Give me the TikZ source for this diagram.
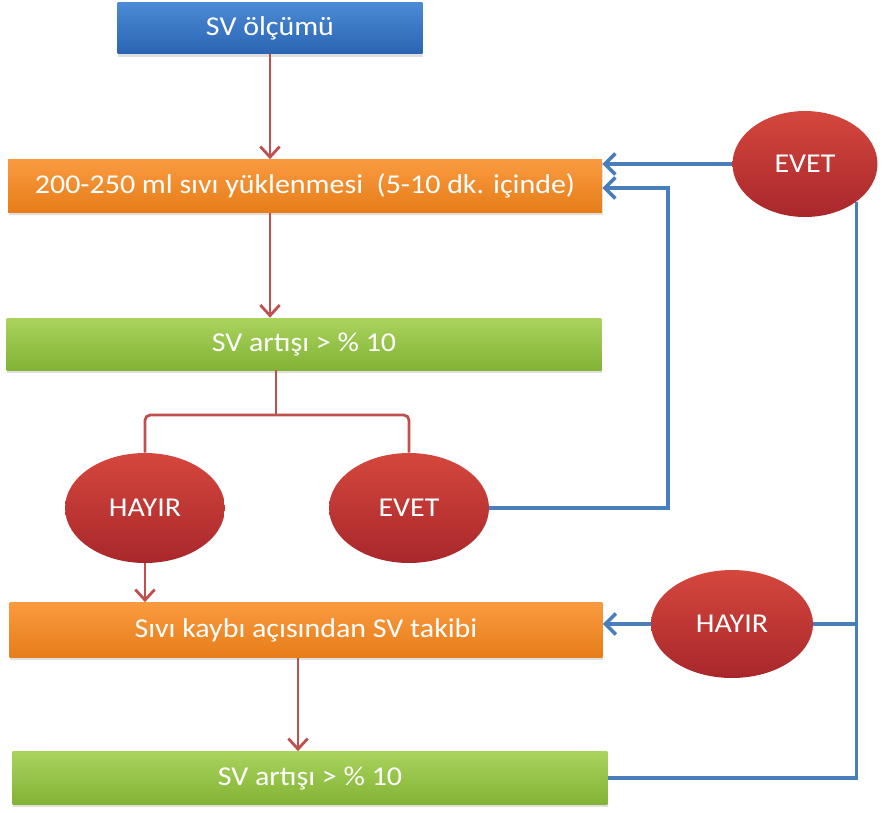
\documentclass[tikz,border=0pt]{standalone}
\usepackage{fontspec}
\setmainfont{Carlito}[FakeStretch=1.1]
\usepackage{xcolor}
\usepackage{tikz}
\usetikzlibrary{shapes.geometric, arrows.meta, shadows}

\definecolor{boxblueT}{HTML}{4C8BD6}
\definecolor{boxblueB}{HTML}{2A64B2}
\definecolor{boxorangeT}{HTML}{FA9A40}
\definecolor{boxorangeB}{HTML}{E67D18}
\definecolor{boxgreenT}{HTML}{A9D35E}
\definecolor{boxgreenB}{HTML}{82B334}
\definecolor{ballredT}{HTML}{D4473D}
\definecolor{ballredB}{HTML}{A9272B}
\definecolor{linered}{HTML}{C0504D}
\definecolor{lineblue}{HTML}{4A7EBB}

\begin{document}
\begin{tikzpicture}[
  x=0.02cm, y=-0.02cm,
  txt/.style={font=\fontsize{15.5pt}{18pt}\selectfont, text=white, align=center},
  stepbox/.style={
    txt, rectangle, inner sep=0pt,
    minimum height=1.06cm,
    drop shadow={shadow xshift=0.5pt, shadow yshift=-1.5pt, opacity=0.25}
  },
  bluebox/.style={stepbox, top color=boxblueT, bottom color=boxblueB},
  orangebox/.style={stepbox, top color=boxorangeT, bottom color=boxorangeB},
  greenbox/.style={stepbox, top color=boxgreenT, bottom color=boxgreenB},
  answer/.style={
    txt, ellipse, inner sep=0pt,
    top color=ballredT, bottom color=ballredB,
    minimum width=3.2cm, minimum height=2.2cm
  },
  rarr/.style={-{Straight Barb[length=6pt, width=11pt]}, line width=1.6pt, linered},
  rline/.style={line width=1.6pt, linered, rounded corners=3pt},
  barr/.style={-{Straight Barb[length=6pt, width=12pt]}, line width=2pt, lineblue},
  bline/.style={line width=2pt, lineblue},
]
  \useasboundingbox (0,0) rectangle (885,812);

  % Steps
  \node[bluebox, minimum width=6.1cm, minimum height=1.04cm] (olcum) at (270,28) {SV ölçümü};
  \node[orangebox, minimum width=11.88cm] (yukle) at (305,186) {200-250 ml sıvı yüklenmesi\ \ (5-10 dk. içinde)};
  \node[greenbox, minimum width=11.9cm, minimum height=1.04cm] (artis1) at (304,344) {SV artışı > \% 10};
  \node[orangebox, minimum width=11.86cm, minimum height=1.1cm] (takip) at (306,630) {Sıvı kaybı açısından SV takibi};
  \node[greenbox, minimum width=11.9cm] (artis2) at (310,778) {SV artışı > \% 10};

  % Answers
  \node[answer] (hayir1) at (145,508) {HAYIR};
  \node[answer] (evet1) at (409,508) {EVET};
  \node[answer, minimum width=2.9cm, minimum height=2.12cm] (evet2) at (805,164) {EVET};
  \node[answer, minimum width=3.24cm, minimum height=2.16cm] (hayir2) at (732,624) {HAYIR};

  % Red flow
  \draw[rarr] (olcum.south) -- (olcum.south |- yukle.north);
  \draw[rarr] (yukle.south -| olcum) -- (artis1.north -| olcum);
  \coordinate (brace) at (276,415);
  \draw[rline] (artis1.south -| brace) -- (brace);
  \draw[rline] (hayir1.north) |- (brace) -| (evet1.north);
  \draw[rarr] (hayir1.south) -- (hayir1.south |- takip.north);
  \draw[rarr] ([xshift=-0.16cm]takip.south) -- ([xshift=-0.16cm]takip.south |- artis2.north);

  % Blue returns
  \coordinate (ret) at (668,188);
  \draw[barr] (evet2.west) -- (evet2.west -| yukle.east);
  \draw[barr] (evet1.east) -| (ret) -- (ret -| yukle.east);
  \draw[barr] (hayir2.west) -- (hayir2.west -| takip.east);
  \draw[bline] (artis2.east) -| (evet2.south east);
  \draw[bline] (hayir2.east) -- (hayir2.east -| evet2.south east);
\end{tikzpicture}
\end{document}
